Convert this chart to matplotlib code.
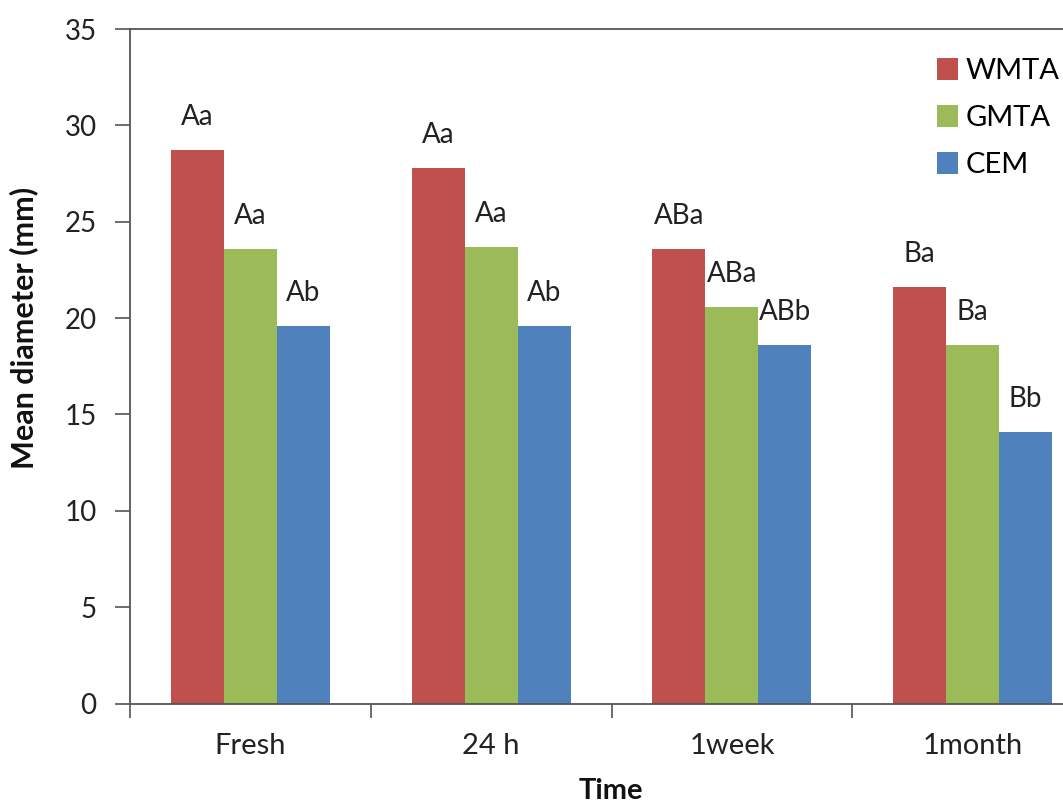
import matplotlib
matplotlib.use("Agg")
import matplotlib.pyplot as plt
import numpy as np
from matplotlib.patches import Patch

plt.rcParams['font.family'] = ['Lato', 'DejaVu Sans']

categories = ["Fresh", "24 h", "1week", "1month"]
series_names = ["WMTA", "GMTA", "CEM"]
wmta = [28.7, 27.8, 23.6, 21.6]
gmta = [23.6, 23.7, 20.6, 18.6]
cem = [19.6, 19.6, 18.6, 14.1]
wmta_labels = ["Aa", "Aa", "ABa", "Ba"]
gmta_labels = ["Aa", "Aa", "ABa", "Ba"]
cem_labels = ["Ab", "Ab", "ABb", "Bb"]
colors = ["#C0504D", "#9BBB59", "#4F81BD"]

W, H = 1063, 805
fig = plt.figure(figsize=(W / 100, H / 100), dpi=100)
left, right = 130 / W, 1093 / W
bottom, top = 1 - 703.5 / H, 1 - 29 / H
ax = fig.add_axes([left, bottom, right - left, top - bottom])

x = np.arange(len(categories))
bw = 0.22
data = [wmta, gmta, cem]
labels = [wmta_labels, gmta_labels, cem_labels]
for i, (vals, labs, c) in enumerate(zip(data, labels, colors)):
    xs = x + (i - 1) * bw
    ax.bar(xs, vals, width=bw, color=c, edgecolor='none', label=series_names[i], zorder=2)
    for xi, v, lab in zip(xs, vals, labs):
        ax.annotate(lab, (xi, v), xytext=(0, 18), textcoords='offset points',
                    ha='center', va='baseline', fontsize=20, color='#222222')

ax.set_xlim(-0.5, len(categories) - 0.5)
ax.set_ylim(0, 35)
ax.set_yticks(np.arange(0, 36, 5))
ax.set_xticks(x)
ax.set_xticklabels(categories)
ax.set_xticks(np.arange(-0.5, len(categories), 1), minor=True)
ax.tick_params(axis='x', which='major', length=0, pad=21, labelsize=21, labelcolor='#222222')
ax.tick_params(axis='x', which='minor', length=10, width=1.2, direction='out', color='#555555')
ax.tick_params(axis='y', length=11, width=1.2, direction='out', pad=13, labelsize=20,
               color='#555555', labelcolor='#222222')

for s in ['left', 'bottom', 'top']:
    ax.spines[s].set_color('#555555')
    ax.spines[s].set_linewidth(1.3)
ax.spines['right'].set_visible(False)

fig.text(24 / W, 1 - 328 / H, "Mean diameter (mm)", rotation=90, ha='center', va='center',
         fontsize=22, fontweight='bold', color='#111111')
fig.text(611 / W, 1 - 799 / H, "Time", ha='center', va='baseline', fontsize=21,
         fontweight='bold', color='#111111')

handles = [Patch(facecolor=c, edgecolor='none') for c in colors]
fig.legend(handles, series_names, loc='upper left', bbox_to_anchor=(937 / W, 1 - 58 / H),
           frameon=False, fontsize=21, handlelength=0.72, handleheight=0.75,
           handletextpad=0.25, labelspacing=0.72, borderpad=0, borderaxespad=0)

fig.savefig("out.png", dpi=100)
